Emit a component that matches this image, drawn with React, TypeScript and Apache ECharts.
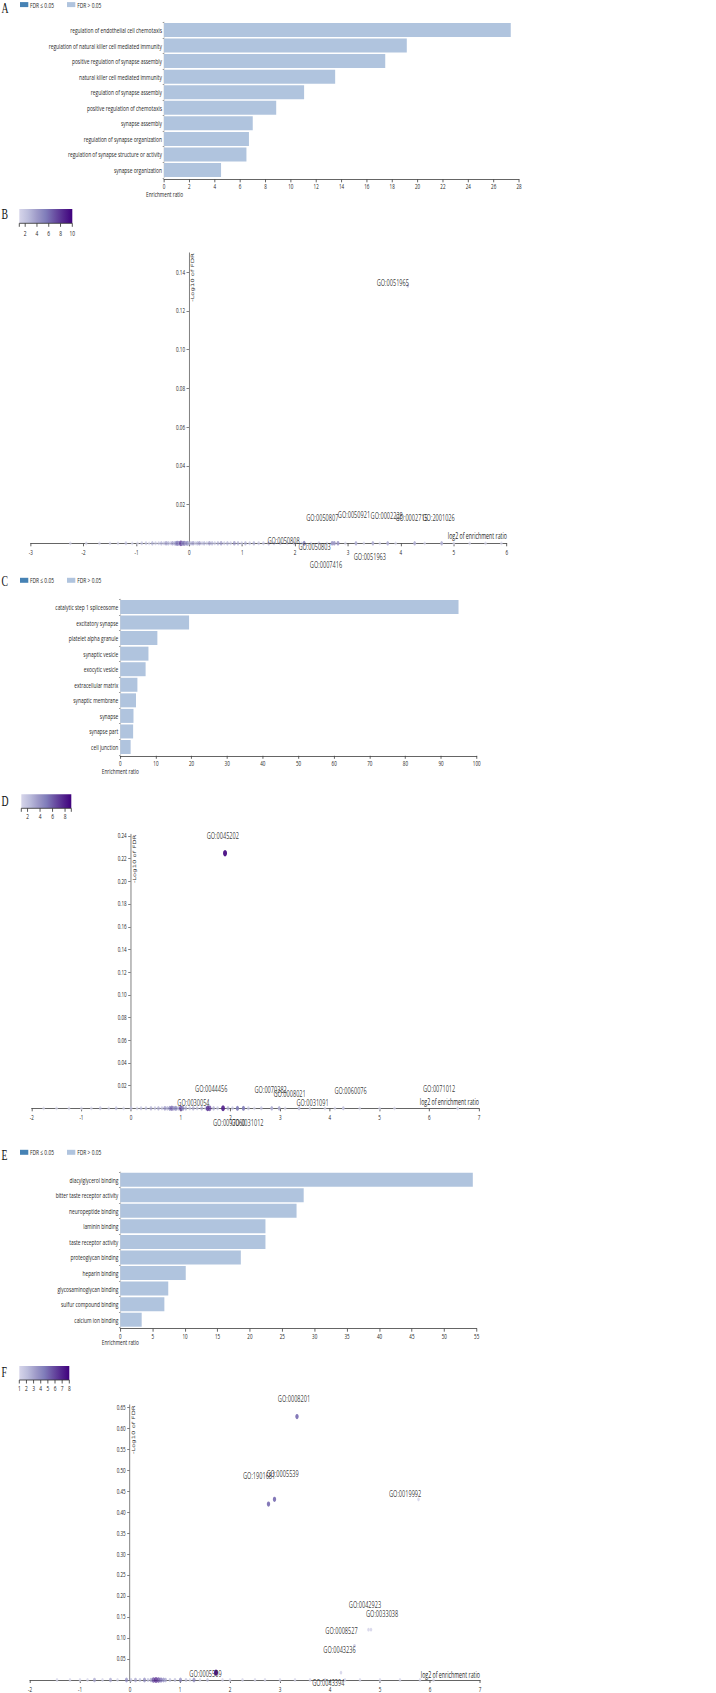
import React, { useEffect, useRef } from "react";
import * as echarts from "echarts";

// ---------------- data ----------------
const bpTerms = [
  "regulation of endothelial cell chemotaxis",
  "regulation of natural killer cell mediated immunity",
  "positive regulation of synapse assembly",
  "natural killer cell mediated immunity",
  "regulation of synapse assembly",
  "positive regulation of chemotaxis",
  "synapse assembly",
  "regulation of synapse organization",
  "regulation of synapse structure or activity",
  "synapse organization",
];
const bpRatio = [27.35, 19.15, 17.45, 13.5, 11.05, 8.85, 7.0, 6.7, 6.5, 4.5];

const ccTerms = [
  "catalytic step 1 spliceosome",
  "excitatory synapse",
  "platelet alpha granule",
  "synaptic vesicle",
  "exocytic vesicle",
  "extracellular matrix",
  "synaptic membrane",
  "synapse",
  "synapse part",
  "cell junction",
];
const ccRatio = [94.9, 19.3, 10.4, 7.9, 7.1, 4.8, 4.4, 3.7, 3.6, 2.9];

const mfTerms = [
  "diacylglycerol binding",
  "bitter taste receptor activity",
  "neuropeptide binding",
  "laminin binding",
  "taste receptor activity",
  "proteoglycan binding",
  "heparin binding",
  "glycosaminoglycan binding",
  "sulfur compound binding",
  "calcium ion binding",
];
const mfRatio = [54.4, 28.3, 27.2, 22.4, 22.4, 18.6, 10.1, 7.4, 6.8, 3.3];

// volcano top terms: [id, log2 enrichment ratio, -log10 FDR, overlap]
const bpTop: [string, number, number, number][] = [
  ["GO:2001026", 4.77, 0, 3],
  ["GO:0002715", 4.26, 0, 3],
  ["GO:0051965", 4.13, 0.133, 2],
  ["GO:0002228", 3.75, 0, 3],
  ["GO:0051963", 3.47, 0, 3],
  ["GO:0050921", 3.15, 0, 3],
  ["GO:0007416", 2.81, 0, 4],
  ["GO:0050807", 2.74, 0, 4],
  ["GO:0050803", 2.7, 0, 4],
  ["GO:0050808", 2.17, 0, 5],
];
const ccTop: [string, number, number, number][] = [
  ["GO:0071012", 6.57, 0, 1],
  ["GO:0060076", 4.27, 0, 2],
  ["GO:0031091", 3.38, 0, 2],
  ["GO:0008021", 2.98, 0, 3],
  ["GO:0070382", 2.83, 0, 3],
  ["GO:0031012", 2.26, 0, 5],
  ["GO:0097060", 2.14, 0, 5],
  ["GO:0045202", 1.89, 0.2248, 9],
  ["GO:0044456", 1.85, 0, 8],
  ["GO:0030054", 1.54, 0, 7],
];
const mfTop: [string, number, number, number][] = [
  ["GO:0019992", 5.77, 0.4306, 1],
  ["GO:0033038", 4.82, 0.12, 1],
  ["GO:0042923", 4.77, 0.12, 1],
  ["GO:0043236", 4.49, 0.0815, 1],
  ["GO:0008527", 4.49, 0.0815, 1],
  ["GO:0043394", 4.22, 0.0175, 1],
  ["GO:0008201", 3.34, 0.628, 5],
  ["GO:0005539", 2.89, 0.4306, 5],
  ["GO:1901681", 2.77, 0.4194, 5],
  ["GO:0005509", 1.72, 0.0175, 8],
];

// other terms: [log2 enrichment ratio, -log10 FDR, overlap]
const bpOther = [
  [-2.25, 0, 1], [-1.95, 0, 1], [-1.7, 0, 1], [-1.5, 0, 1], [-1.35, 0, 1], [-1.2, 0, 2], [-1.08, 0, 1],
  [-0.98, 0, 1], [-0.9, 0, 2], [-0.82, 0, 2], [-0.76, 0, 1], [-0.7, 0, 3], [-0.64, 0, 2], [-0.58, 0, 2],
  [-0.53, 0, 3], [-0.48, 0, 2], [-0.44, 0, 4], [-0.4, 0, 3], [-0.36, 0, 2], [-0.32, 0, 4], [-0.28, 0, 3],
  [-0.25, 0, 5], [-0.22, 0, 6], [-0.19, 0, 4], [-0.16, 0, 8], [-0.13, 0, 5], [-0.1, 0, 6], [-0.07, 0, 4],
  [-0.04, 0, 5], [-0.01, 0, 3], [0.03, 0, 3], [0.07, 0, 4], [0.11, 0, 2], [0.15, 0, 3], [0.19, 0, 4],
  [0.24, 0, 2], [0.28, 0, 3], [0.33, 0, 2], [0.38, 0, 4], [0.43, 0, 3], [0.48, 0, 2], [0.54, 0, 3],
  [0.6, 0, 4], [0.66, 0, 2], [0.72, 0, 3], [0.78, 0, 2], [0.85, 0, 4], [0.92, 0, 3], [0.99, 0, 2],
  [1.06, 0, 3], [1.14, 0, 2], [1.22, 0, 3], [1.31, 0, 2], [1.4, 0, 2], [1.5, 0, 3], [1.6, 0, 2],
  [1.72, 0, 2], [1.85, 0, 1], [1.98, 0, 2], [2.12, 0, 1], [2.3, 0, 1], [2.45, 0, 2], [2.6, 0, 1],
  [2.95, 0, 1], [3.3, 0, 1], [3.6, 0, 1], [3.9, 0, 1], [4.45, 0, 1], [5.0, 0, 1], [5.3, 0, 1],
  [5.6, 0, 1], [5.9, 0, 1],
];
const ccOther = [
  [-1.76, 0, 1], [-1.5, 0, 1], [-1.25, 0, 1], [-1.0, 0, 1], [-0.8, 0, 1], [-0.62, 0, 2], [-0.45, 0, 1],
  [-0.3, 0, 2], [-0.15, 0, 1], [0.0, 0, 2], [0.12, 0, 1], [0.2, 0, 2], [0.3, 0, 2], [0.4, 0, 3],
  [0.48, 0, 2], [0.55, 0, 3], [0.62, 0, 2], [0.68, 0, 4], [0.73, 0, 3], [0.78, 0, 5], [0.82, 0, 6],
  [0.86, 0, 4], [0.9, 0, 5], [0.95, 0, 3], [1.0, 0, 7], [1.04, 0, 5], [1.1, 0, 3], [1.18, 0, 2],
  [1.25, 0, 3], [1.33, 0, 2], [1.42, 0, 3], [1.5, 0, 2], [1.58, 0, 7], [1.66, 0, 3], [1.74, 0, 2],
  [1.95, 0, 3], [2.04, 0, 2], [2.36, 0, 2], [2.48, 0, 1], [2.62, 0, 2], [3.1, 0, 1], [3.6, 0, 1],
  [3.9, 0, 1], [4.1, 0, 1], [4.6, 0, 1], [5.0, 0, 1], [5.3, 0, 1],
];
const mfOther = [
  [-1.46, 0, 1], [-1.2, 0, 1], [-1.0, 0, 1], [-0.85, 0, 1], [-0.71, 0, 3], [-0.55, 0, 1], [-0.39, 0, 3],
  [-0.25, 0, 1], [-0.07, 0, 4], [0.02, 0, 2], [0.11, 0, 3], [0.2, 0, 2], [0.29, 0, 4], [0.36, 0, 2],
  [0.42, 0, 3], [0.47, 0, 6], [0.52, 0, 7], [0.57, 0, 6], [0.62, 0, 5], [0.67, 0, 4], [0.71, 0, 3],
  [0.8, 0, 2], [0.9, 0, 2], [1.01, 0, 4], [1.12, 0, 2], [1.2, 0, 1], [1.28, 0, 4], [1.4, 0, 1],
  [1.55, 0, 2], [1.85, 0, 1], [2.0, 0, 1], [2.25, 0, 1], [2.5, 0, 1], [2.7, 0, 1], [3.0, 0, 1],
  [3.3, 0, 1], [3.6, 0, 1], [3.9, 0, 1], [4.3, 0, 1], [4.6, 0, 1], [5.0, 0, 1], [5.4, 0, 1],
  [5.8, 0, 1], [6.07, 0, 1],
];

const bpColorTicks = [2, 4, 6, 8, 10];
const ccColorTicks = [2, 4, 6, 8];
const mfColorTicks = [1, 2, 3, 4, 5, 6, 7, 8];

// ---------------- layout / style ----------------
const S = 0.65; // horizontal squeeze of the whole figure
const H = 1693;
const W = 716 / S;
const X = (v: number) => v / S;

const PURPLES = ["#d6d5ea", "#bcbddc", "#9e9ac8", "#807dba", "#6a51a3", "#54278f", "#3f007d"];
const SIG = "#4682b4";
const NONSIG = "#b0c4de";
const AXIS = "#444";
const TXT = "#262626";
const FONT = "Open Sans";

// label offsets (reference px) for volcano labels
const labelOffsets: Record<string, [number, number]> = {
  "GO:2001026": [-3, -26.3], "GO:0002715": [-3, -26.3], "GO:0051965": [-15, -3],
  "GO:0002228": [-1, -28], "GO:0051963": [-3, 13.4], "GO:0050921": [-2, -29],
  "GO:0007416": [-12, 20.7], "GO:0050807": [-12, -26.3], "GO:0050803": [-17.6, 3.4],
  "GO:0050808": [-20.6, -3.3],
  "GO:0071012": [-18.5, -19.6], "GO:0060076": [7.3, -18.3], "GO:0031091": [13.5, -6],
  "GO:0008021": [10.4, -15], "GO:0070382": [-1.1, -19], "GO:0031012": [4, 14.4],
  "GO:0097060": [-8.3, 14.4], "GO:0045202": [-2.2, -17.6], "GO:0044456": [-11.8, -19.6],
  "GO:0030054": [-14.2, -6],
  "GO:0019992": [-13.4, -6.2], "GO:0033038": [11.1, -16.3], "GO:0042923": [-3.5, -25],
  "GO:0043236": [-15, 3.4], "GO:0008527": [-13, -15.6], "GO:0043394": [-12.7, 10],
  "GO:0008201": [-3, -18.3], "GO:0005539": [8.1, -26.2], "GO:1901681": [-9.4, -29],
  "GO:0005509": [-10.5, 0.7],
};

function barGrid(left: number, right: number, top: number) {
  return { left: X(left), width: X(right - left), top, height: 155.6 };
}

function barXAxis(gi: number, max: number, interval: number, offset: number) {
  return {
    gridIndex: gi, type: "value", min: 0, max, interval, offset,
    axisLine: { show: true, lineStyle: { color: AXIS, width: 1 } },
    axisTick: { show: true, length: 3, lineStyle: { color: AXIS } },
    axisLabel: { fontSize: 7, color: TXT, margin: 4, fontFamily: FONT },
    splitLine: { show: false },
  };
}
function barYAxis(gi: number, terms: string[]) {
  return {
    gridIndex: gi, type: "category", data: terms, inverse: true,
    axisLine: { show: true, lineStyle: { color: "#c8c8c8", width: 1 } },
    axisTick: { show: true, length: 2, lineStyle: { color: "#888" } },
    axisLabel: { fontSize: 7.5, color: TXT, margin: X(2), fontFamily: FONT },
  };
}
function volXAxis(gi: number, min: number, max: number) {
  return {
    gridIndex: gi, type: "value", min, max, interval: 1,
    axisLine: { show: true, onZero: true, lineStyle: { color: AXIS, width: 1 } },
    axisTick: { show: true, length: 3, lineStyle: { color: AXIS } },
    axisLabel: { fontSize: 7, color: TXT, margin: 6, fontFamily: FONT, showMinLabel: true, showMaxLabel: true },
    splitLine: { show: false },
  };
}
// shiftRef: distance (reference px) from the grid's left edge to x = 0
function volYAxis(gi: number, max: number, interval: number, shiftRef: number) {
  return {
    gridIndex: gi, type: "value", min: 0, max, interval, position: "left", offset: -X(shiftRef),
    axisLine: { show: true, onZero: false, lineStyle: { color: "#666", width: 1 } },
    axisTick: { show: true, length: X(2.5), lineStyle: { color: "#666" } },
    axisLabel: {
      fontSize: 7, color: TXT, margin: X(4), fontFamily: FONT, showMaxLabel: false,
      formatter: (v: number) => (Math.abs(v) < 1e-9 ? "" : v.toFixed(2)),
    },
    splitLine: { show: false },
  };
}
function barSeries(gi: number, values: number[]) {
  return {
    type: "bar", xAxisIndex: gi, yAxisIndex: gi, data: values, barCategoryGap: "10%",
    itemStyle: { color: NONSIG }, silent: true,
  };
}
function otherSeries(gi: number, pts: number[][]) {
  return {
    type: "scatter", xAxisIndex: gi, yAxisIndex: gi, data: pts, clip: false,
    itemStyle: { opacity: 0.75 }, z: 2, silent: true,
  };
}
function topSeries(gi: number, pts: [string, number, number, number][]) {
  return {
    type: "scatter", xAxisIndex: gi, yAxisIndex: gi, clip: false, z: 3, silent: true,
    itemStyle: { opacity: 0.9 },
    label: { show: true, formatter: "{b}", position: "inside", fontSize: 8.6, color: TXT, fontFamily: FONT },
    data: pts.map(([id, x, y, c]) => {
      const o = labelOffsets[id] || [0, -10];
      return { name: id, value: [x, y, c], label: { offset: [X(o[0]), o[1]] } };
    }),
  };
}
function vmap(series: number[], max: number) {
  return {
    type: "continuous", show: false, seriesIndex: series, dimension: 2, min: 1, max,
    inRange: { color: PURPLES, symbolSize: [3.8, 6.2] },
  };
}

function txt(x: number, y: number, text: string, size: number, extra: any = {}, family = FONT) {
  const align = extra.align || "left";
  const va = extra.verticalAlign || "middle";
  return {
    type: "text", x: X(x), y, rotation: extra.rotation || 0, silent: true,
    style: {
      text, fontSize: size, fontFamily: family, fill: extra.fill || TXT,
      align, verticalAlign: va, textAlign: align, textVerticalAlign: va,
    },
  };
}
function legend(cy: number) {
  return [
    { type: "rect", silent: true, shape: { x: X(20), y: cy - 2.5, width: X(8.3), height: 5 }, style: { fill: SIG } },
    txt(30, cy, "FDR \u2264 0.05", 7.5),
    { type: "rect", silent: true, shape: { x: X(67), y: cy - 2.5, width: X(8.3), height: 5 }, style: { fill: NONSIG } },
    txt(77.3, cy, "FDR > 0.05", 7.5),
  ];
}
function colorBar(x0: number, x1: number, y0: number, y1: number, min: number, max: number, ticks: number[], labelY: number) {
  const stops = PURPLES.map((c, i) => ({ offset: i / (PURPLES.length - 1), color: c }));
  const els: any[] = [
    { type: "rect", silent: true, shape: { x: X(x0), y: y0, width: X(x1 - x0), height: y1 - y0 },
      style: { fill: new echarts.graphic.LinearGradient(0, 0, 1, 0, stops) } },
    { type: "line", silent: true, shape: { x1: X(x0), y1, x2: X(x1), y2: y1 }, style: { stroke: "#333", lineWidth: 1 } },
  ];
  const px = (v: number) => x0 + ((v - min) / (max - min)) * (x1 - x0);
  const marks = Array.from(new Set([min, ...ticks, max]));
  marks.forEach((v) => {
    els.push({ type: "line", silent: true, shape: { x1: X(px(v)), y1, x2: X(px(v)), y2: y1 + 3.5 }, style: { stroke: "#333", lineWidth: 1 } });
  });
  ticks.forEach((v) => els.push(txt(px(v), labelY, String(v), 7.5, { align: "center" })));
  return els;
}
function yName(x: number, y: number) {
  return txt(x, y, "-Log10 of FDR", 6.9, { rotation: Math.PI / 2, align: "right", verticalAlign: "top" }, "DejaVu Sans");
}
function letter(y: number, t: string) {
  return txt(1.5, y, t, 15, { fill: "#111" }, "Liberation Serif");
}

function buildOption() {
  const grid = [
    barGrid(164, 519, 22.2),
    { left: X(30.7), width: X(476), top: 252.9, height: 290.4 },
    barGrid(120.3, 476.7, 599.2),
    { left: X(31.7), width: X(447.3), top: 834.3, height: 274 },
    barGrid(120.3, 476.7, 1171.9),
    { left: X(30), width: X(450), top: 1404.9, height: 276.8 },
  ];
  const xAxis = [
    barXAxis(0, 28, 2, 1.5),
    volXAxis(1, -3, 6),
    barXAxis(2, 100, 10, 1),
    volXAxis(3, -2, 7),
    barXAxis(4, 55, 5, 1.2),
    volXAxis(5, -2, 7),
  ];
  const yAxis = [
    barYAxis(0, bpTerms),
    volYAxis(1, 0.15, 0.02, 158.3),
    barYAxis(2, ccTerms),
    volYAxis(3, 0.2415, 0.02, 99),
    barYAxis(4, mfTerms),
    volYAxis(5, 0.6557, 0.05, 99.7),
  ];
  const series = [
    barSeries(0, bpRatio),
    otherSeries(1, bpOther),
    topSeries(1, bpTop),
    barSeries(2, ccRatio),
    otherSeries(3, ccOther),
    topSeries(3, ccTop),
    barSeries(4, mfRatio),
    otherSeries(5, mfOther),
    topSeries(5, mfTop),
  ];
  const graphic = [
    letter(8.5, "A"), letter(214.5, "B"), letter(581.7, "C"),
    letter(801.7, "D"), letter(1155.3, "E"), letter(1372.3, "F"),
    ...legend(4.6), ...legend(580.3), ...legend(1152.3),
    txt(164.5, 194, "Enrichment ratio", 7.3, { align: "center" }),
    txt(120.3, 770.7, "Enrichment ratio", 7.3, { align: "center" }),
    txt(120.3, 1342.3, "Enrichment ratio", 7.3, { align: "center" }),
    ...colorBar(19.3, 72.3, 209, 223.3, 1, 10, bpColorTicks, 233),
    ...colorBar(21.3, 71.3, 794.3, 808.3, 1, 9, ccColorTicks, 816),
    ...colorBar(19.3, 69.3, 1366, 1380, 1, 8, mfColorTicks, 1387.7),
    yName(190.2, 253.3), yName(131.8, 834.6), yName(131, 1405.5),
    txt(507, 536, "log2 of enrichment ratio", 8.1, { align: "right" }),
    txt(479, 1101.7, "log2 of enrichment ratio", 8.1, { align: "right" }),
    txt(480, 1675.3, "log2 of enrichment ratio", 8.1, { align: "right" }),
  ];
  return {
    animation: false,
    backgroundColor: "#fff",
    textStyle: { fontFamily: FONT },
    grid, xAxis, yAxis, series,
    visualMap: [vmap([1, 2], 10), vmap([4, 5], 9), vmap([7, 8], 8)],
    graphic,
  };
}

export default function App() {
  const ref = useRef<HTMLDivElement>(null);
  useEffect(() => {
    if (!ref.current) return;
    const chart = echarts.init(ref.current, null, { renderer: "svg", width: W, height: H });
    chart.setOption(buildOption() as any);
    return () => chart.dispose();
  }, []);
  return (
    <div style={{ position: "absolute", left: 0, top: 0, width: 716, height: H, overflow: "hidden", background: "#fff" }}>
      <div ref={ref} style={{ width: W, height: H, transform: `scaleX(${S})`, transformOrigin: "0 0" }} />
    </div>
  );
}
